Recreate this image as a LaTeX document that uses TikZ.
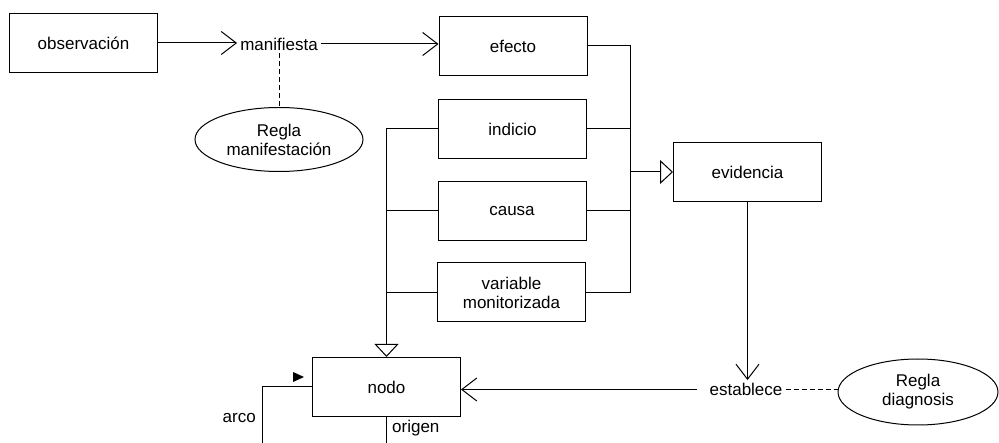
\documentclass[tikz,border=0pt]{standalone}
\usepackage{fontspec}
\setmainfont{Liberation Sans}
\usetikzlibrary{arrows.meta,shapes.geometric}
\begin{document}
\begin{tikzpicture}[x=1pt,y=-1pt,
  every node/.style={font=\fontsize{17}{19}\selectfont},
  box/.style={draw,line width=1pt,minimum width=148pt,minimum height=59pt,inner sep=2pt,align=center},
  lbl/.style={inner sep=3pt},
  oval/.style={draw,ellipse,line width=1pt,inner sep=0pt,align=center},
  conn/.style={line width=1pt},
  vee/.style={-{Straight Barb[length=15pt,width=23pt]}},
  gen/.style={-{Triangle[open,length=13pt,width=24pt]}},
  dsh/.style={line width=1pt,dash pattern=on 5pt off 3pt}
]
\useasboundingbox (0,0) rectangle (999,443);

\node[box] (obs) at (83.5,43) {observación};
\node[lbl] (mani) at (279,44) {manifiesta};
\node[box] (efecto) at (513,46) {efecto};
\node[box] (indicio) at (512.5,129) {indicio};
\node[box] (causa) at (512,211) {causa};
\node[box] (vm) at (511.5,292.5) {variable\\monitorizada};
\node[box] (evid) at (747.5,172) {evidencia};
\node[box] (nodo) at (386.5,387) {nodo};
\node[lbl] (estab) at (746,389.5) {establece};
\node[oval,minimum width=168pt,minimum height=64pt] (rman) at (279,139.5) {Regla\\manifestación};
\node[oval,minimum width=160pt,minimum height=66pt] (rdiag) at (918,392) {Regla\\diagnosis};
\node[lbl,anchor=east] (arco) at (259,418) {arco};
\node[lbl,anchor=west] (origen) at (389,428) {origen};

\coordinate (rbus) at (630,0);
\coordinate (loopend) at (262,443);
\coordinate (orgend) at (386.5,443);

\draw[conn,vee] (obs.east) -- (obs.east -| mani.west);
\draw[conn,vee] (mani.east) -- (mani.east -| efecto.west);
\draw[dsh] (mani.south) -- (rman.north);
\draw[conn] (efecto.east) -| (rbus |- vm.east) -- (vm.east);
\draw[conn] (indicio.east) -- (indicio.east -| rbus);
\draw[conn] (causa.east) -- (causa.east -| rbus);
\draw[conn,gen] (evid.west -| rbus) -- (evid.west);
\draw[conn,gen] (indicio.west) -| (nodo.north);
\draw[conn] (causa.west) -- (causa.west -| nodo.north);
\draw[conn] (vm.west) -- (vm.west -| nodo.north);
\draw[conn,vee] (evid.south) -- (evid.south |- estab.north);
\draw[conn,vee,shorten <=9pt] (estab.west) -- (estab.west -| nodo.east);
\draw[dsh] (estab.east) -- (estab.east -| rdiag.west);
\draw[conn] (nodo.west) -| (loopend);
\fill (293,372) -- (304,377) -- (293,382) -- cycle;
\draw[conn] (nodo.south) -- (orgend);
\end{tikzpicture}
\end{document}
